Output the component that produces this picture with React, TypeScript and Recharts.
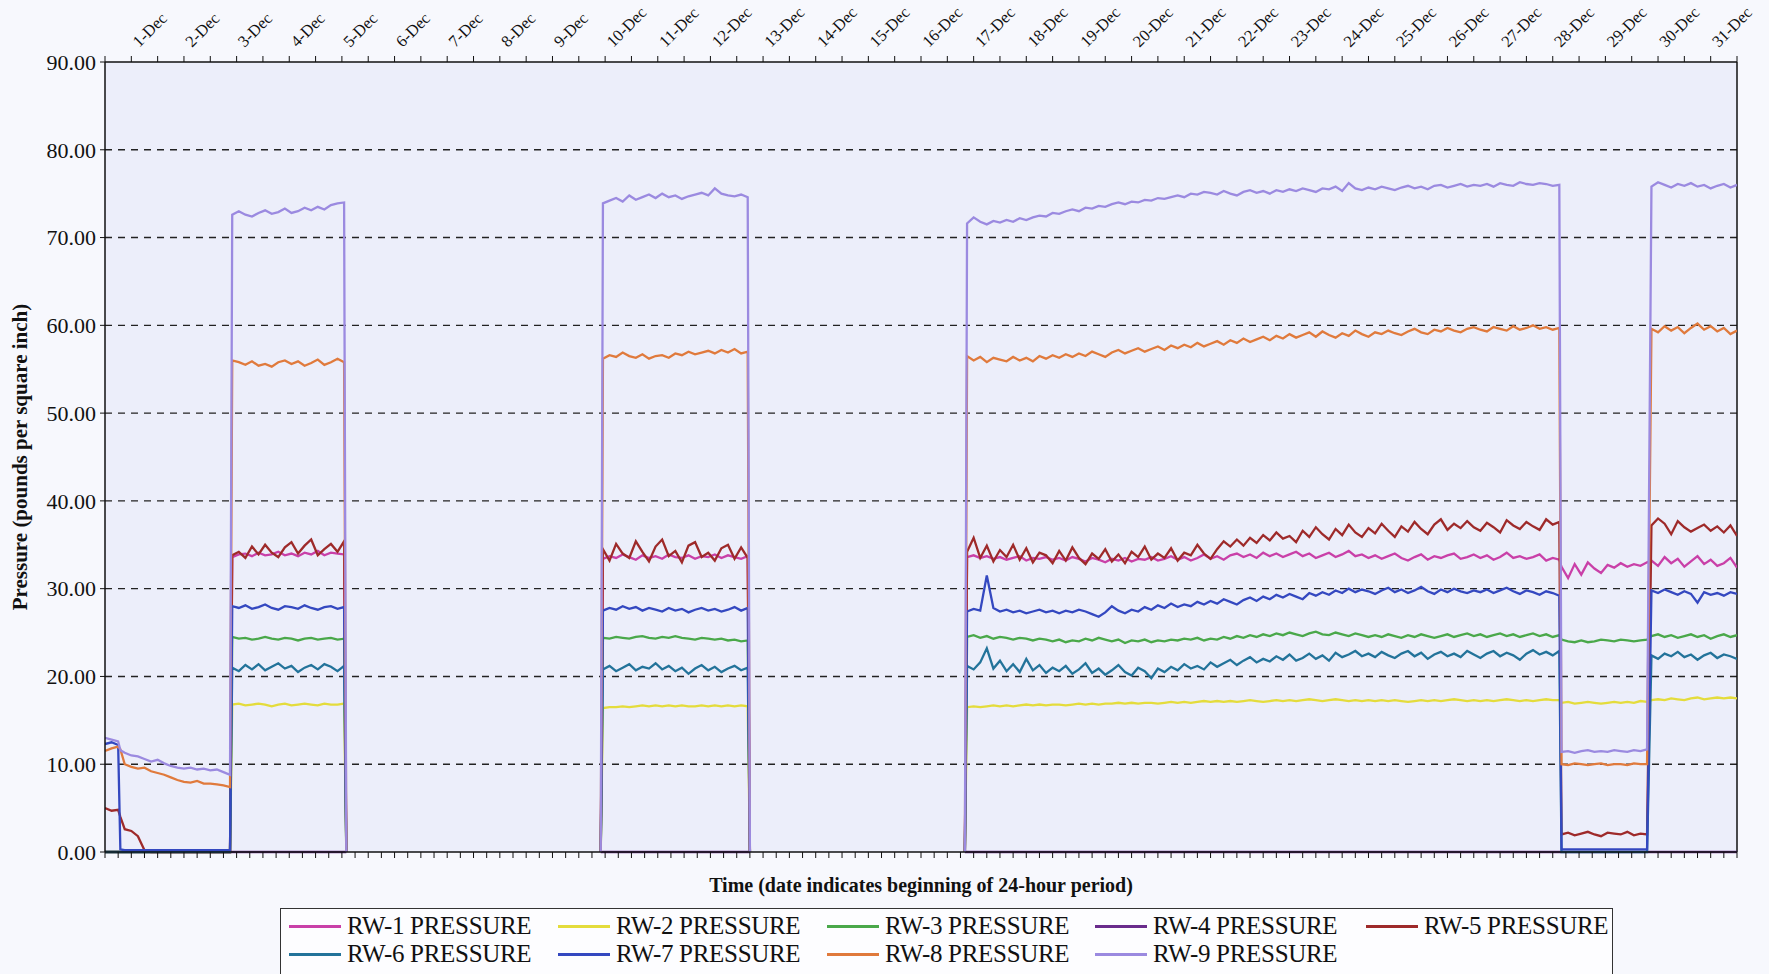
import React from 'react';
import { LineChart, Line, XAxis, YAxis, CartesianGrid, Legend, ReferenceLine } from 'recharts';

const FONT = '"Liberation Serif", "Times New Roman", Times, serif';

const dayLabels = ['1-Dec','2-Dec','3-Dec','4-Dec','5-Dec','6-Dec','7-Dec','8-Dec','9-Dec','10-Dec','11-Dec','12-Dec','13-Dec','14-Dec','15-Dec','16-Dec','17-Dec','18-Dec','19-Dec','20-Dec','21-Dec','22-Dec','23-Dec','24-Dec','25-Dec','26-Dec','27-Dec','28-Dec','29-Dec','30-Dec','31-Dec'];
const yTicks = [0, 10, 20, 30, 40, 50, 60, 70, 80, 90];
const gridValues = [10, 20, 30, 40, 50, 60, 70, 80];

// hours since 1-Dec 00:00
const times = [
  0,3,6,7,9,12,15,18,21,24,27,30,33,36,39,42,45,48,51,54,57,
  58,61,64,67,70,73,76,79,82,85,88,91,94,97,100,103,106,109,
  110,168,226,
  227,230,233,236,239,242,245,248,251,254,257,260,263,266,269,272,275,278,281,284,287,290,293,
  294,343,392,
  393,396,399,402,405,408,411,414,417,420,423,426,429,432,
  435,438,441,444,447,450,453,456,459,462,465,468,471,474,477,480,
  483,486,489,492,495,498,501,504,507,510,513,516,519,522,525,528,
  531,534,537,540,543,546,549,552,555,558,561,564,567,570,573,576,
  579,582,585,588,591,594,597,600,603,606,609,612,615,618,621,624,
  627,630,633,636,639,642,645,648,651,654,657,660,663,
  664,667,670,673,676,679,682,685,688,691,694,697,700,703,
  705,708,711,714,717,720,723,726,729,732,735,738,741,744,
];

const rw1 = [
  0,0,0,0,0,0,0,0,0,0,0,0,0,0,0,0,0,0,0,0,0,
  33.6,33.9,34.0,33.7,34.1,33.8,33.9,34.2,33.8,34.0,33.7,34.1,33.9,34.3,33.8,34.1,34.0,33.9,
  0,null,0,
  33.4,33.7,33.5,33.9,33.6,33.3,33.8,33.5,33.7,33.4,33.9,33.6,33.5,33.8,33.4,33.7,33.6,33.9,33.5,33.8,33.6,33.4,33.7,
  0,null,0,
  33.6,33.8,33.5,33.7,33.4,33.6,33.3,33.5,33.7,33.2,33.5,33.4,33.6,33.3,
  33.5,33.2,33.6,33.4,33.1,33.5,33.3,33.0,33.4,33.2,33.5,33.1,33.4,33.3,33.6,33.2,
  33.4,33.7,33.3,33.6,33.2,33.5,33.9,33.4,33.7,33.3,33.8,34.0,33.6,33.9,33.5,34.1,
  33.7,34.0,33.6,33.9,34.2,33.7,34.0,33.5,33.8,34.1,33.6,33.9,34.3,33.7,33.9,33.5,
  33.8,33.4,33.7,34.0,33.5,33.2,33.6,33.9,33.3,33.7,33.5,33.8,34.0,33.4,33.6,33.9,
  33.5,33.8,33.3,33.6,34.1,33.5,33.7,33.4,33.6,33.9,33.2,33.5,33.3,
  32.5,31.2,32.8,31.6,33.0,32.3,31.8,32.7,32.4,32.9,32.5,32.8,32.6,33.0,
  33.2,32.6,33.6,32.9,33.4,32.5,33.1,33.7,32.8,33.3,32.6,32.9,33.5,32.4,
];

const rw2 = [
  0,0,0,0,0,0,0,0,0,0,0,0,0,0,0,0,0,0,0,0,0,
  16.8,16.9,16.7,16.8,16.9,16.8,16.6,16.8,16.9,16.7,16.8,16.9,16.8,16.7,16.9,16.8,16.8,16.9,
  0,null,0,
  16.4,16.5,16.5,16.6,16.5,16.6,16.7,16.6,16.7,16.6,16.7,16.6,16.7,16.6,16.6,16.7,16.6,16.7,16.6,16.7,16.6,16.7,16.6,
  0,null,0,
  16.5,16.6,16.5,16.6,16.7,16.6,16.7,16.6,16.7,16.8,16.7,16.8,16.7,16.8,
  16.8,16.7,16.8,16.9,16.8,16.9,16.8,16.9,16.9,17.0,16.9,17.0,16.9,17.0,17.0,16.9,
  17.0,17.1,17.0,17.1,17.0,17.1,17.2,17.1,17.2,17.1,17.2,17.1,17.2,17.3,17.2,17.1,
  17.2,17.3,17.2,17.3,17.2,17.3,17.4,17.3,17.2,17.3,17.4,17.3,17.2,17.3,17.2,17.3,
  17.2,17.3,17.2,17.3,17.2,17.1,17.2,17.3,17.2,17.3,17.2,17.3,17.4,17.3,17.2,17.3,
  17.2,17.3,17.2,17.3,17.4,17.3,17.2,17.3,17.2,17.3,17.4,17.3,17.3,
  17.0,17.1,16.9,17.0,17.1,17.0,16.9,17.0,17.1,17.0,17.1,17.0,17.2,17.1,
  17.3,17.4,17.3,17.5,17.4,17.3,17.5,17.6,17.4,17.5,17.6,17.5,17.6,17.5,
];

const rw3 = [
  0,0,0,0,0,0,0,0,0,0,0,0,0,0,0,0,0,0,0,0,0,
  24.5,24.3,24.4,24.2,24.3,24.5,24.3,24.2,24.4,24.3,24.1,24.3,24.4,24.2,24.3,24.4,24.2,24.3,
  0,null,0,
  24.4,24.3,24.5,24.4,24.3,24.5,24.6,24.4,24.3,24.5,24.4,24.6,24.4,24.3,24.2,24.4,24.3,24.2,24.3,24.1,24.2,24.0,24.1,
  0,null,0,
  24.5,24.7,24.4,24.6,24.3,24.5,24.4,24.2,24.4,24.3,24.1,24.3,24.2,24.0,
  24.2,23.9,24.1,24.0,24.3,24.1,24.4,24.2,24.0,24.2,23.8,24.1,24.0,24.2,23.9,24.1,
  24.0,24.2,24.1,24.3,24.2,24.4,24.1,24.3,24.2,24.5,24.3,24.6,24.4,24.7,24.5,24.8,
  24.6,24.9,24.7,25.0,24.8,24.6,24.9,25.1,24.8,24.7,25.0,24.8,24.6,24.9,24.7,24.5,
  24.7,24.5,24.8,24.6,24.4,24.7,24.5,24.8,24.6,24.4,24.6,24.8,24.5,24.7,24.9,24.6,
  24.8,24.5,24.7,24.9,24.6,24.8,24.5,24.7,24.9,24.6,24.8,24.5,24.7,
  24.2,24.0,23.9,24.1,23.9,24.0,24.2,24.1,24.0,24.2,24.1,24.0,24.1,24.2,
  24.6,24.8,24.5,24.7,24.4,24.6,24.8,24.5,24.7,24.3,24.6,24.8,24.5,24.7,
];

const rw4 = [
  0,0,0,0,0,0,0,0,0,0,0,0,0,0,0,0,0,0,0,0,0,
  0,0,0,0,0,0,0,0,0,0,0,0,0,0,0,0,0,0,
  0,null,0,
  0,0,0,0,0,0,0,0,0,0,0,0,0,0,0,0,0,0,0,0,0,0,0,
  0,null,0,
  0,0,0,0,0,0,0,0,0,0,0,0,0,0,
  0,0,0,0,0,0,0,0,0,0,0,0,0,0,0,0,
  0,0,0,0,0,0,0,0,0,0,0,0,0,0,0,0,
  0,0,0,0,0,0,0,0,0,0,0,0,0,0,0,0,
  0,0,0,0,0,0,0,0,0,0,0,0,0,0,0,0,
  0,0,0,0,0,0,0,0,0,0,0,0,0,
  0,0,0,0,0,0,0,0,0,0,0,0,0,0,
  0,0,0,0,0,0,0,0,0,0,0,0,0,0,
];

const rw5 = [
  5.0,4.7,4.8,4.0,2.6,2.4,1.8,0.2,0,0,0,0,0,0,0,0,0,0,0,0,0,
  33.8,34.2,33.5,34.8,33.9,35.0,34.1,33.6,34.7,35.3,34.0,34.9,35.6,33.8,34.5,35.1,34.2,35.4,
  0,null,0,
  34.5,33.2,35.1,34.0,33.5,35.4,34.2,33.1,34.8,35.6,33.7,34.3,33.0,34.9,35.3,33.6,34.1,33.2,34.6,35.0,33.4,34.7,33.5,
  0,null,0,
  34.2,35.8,33.5,34.9,33.1,34.4,33.6,35.0,33.3,34.6,33.0,34.1,33.8,32.9,
  34.3,33.2,34.7,33.5,32.8,34.0,33.4,34.5,33.1,33.9,32.9,34.2,33.6,34.8,33.3,34.0,
  33.5,34.6,33.2,34.1,33.8,35.0,34.0,33.4,34.5,35.4,34.8,35.6,34.9,35.8,35.2,36.1,
  35.5,36.4,35.7,36.0,35.3,36.6,35.9,37.0,36.2,35.6,36.8,36.1,37.3,36.4,35.9,36.9,
  36.3,37.4,36.6,35.9,37.1,36.5,37.6,36.8,36.2,37.3,37.9,36.7,37.4,36.9,37.7,37.0,
  36.6,37.5,37.0,36.4,37.8,37.2,36.8,37.6,37.1,36.7,37.9,37.3,37.6,
  2.0,2.2,1.9,2.1,2.3,2.0,1.8,2.2,2.1,2.0,2.3,1.9,2.1,2.0,
  37.2,38.0,37.4,36.2,37.7,37.0,36.5,36.9,37.3,36.6,37.1,36.4,37.2,36.0,
];

const rw6 = [
  0,0,0,0,0,0,0,0,0,0,0,0,0,0,0,0,0,0,0,0,0,
  21.0,20.6,21.3,20.8,21.4,20.7,21.1,21.5,20.9,21.2,20.5,21.0,21.3,20.8,21.4,21.1,20.6,21.2,
  0,null,0,
  20.8,21.2,20.6,21.0,21.4,20.7,21.1,20.9,21.5,20.8,21.2,20.6,21.0,20.3,20.9,21.3,20.7,21.1,20.5,20.9,21.2,20.7,21.0,
  0,null,0,
  21.2,20.8,21.6,23.2,20.9,21.8,20.6,21.4,20.5,22.0,20.7,21.3,20.4,21.0,
  20.6,21.2,20.3,20.8,21.5,20.4,20.9,20.2,20.7,21.3,20.5,20.1,21.0,20.6,19.8,20.9,
  20.5,21.1,20.7,21.4,20.9,21.2,20.8,21.6,21.1,21.5,21.9,21.3,21.8,22.2,21.6,22.0,
  21.7,22.3,21.9,22.5,21.8,22.1,22.6,22.0,22.4,21.8,22.7,22.2,22.5,22.9,22.3,22.6,
  22.2,22.8,22.4,22.1,22.6,22.9,22.3,22.7,22.0,22.5,22.8,22.3,22.6,22.2,22.9,22.5,
  22.1,22.6,22.9,22.3,22.7,22.4,21.9,22.6,23.0,22.5,22.8,22.4,22.9,
  0,0,0,0,0,0,0,0,0,0,0,0,0,0,
  22.4,22.0,22.6,22.3,22.8,22.2,22.5,21.9,22.4,22.7,22.1,22.5,22.3,22.0,
];

const rw7 = [
  12.3,12.5,12.2,0.3,0.2,0.2,0.2,0.2,0.2,0.2,0.2,0.2,0.2,0.2,0.2,0.2,0.2,0.2,0.2,0.2,0.2,
  28.0,27.8,28.1,27.7,27.9,28.2,27.8,27.6,28.0,27.9,27.7,28.1,27.8,27.6,27.9,28.0,27.7,27.9,
  0,null,0,
  27.5,27.8,27.6,28.0,27.7,27.9,27.5,27.8,27.6,27.4,27.8,27.5,27.7,27.3,27.6,27.8,27.5,27.7,27.4,27.6,27.9,27.5,27.8,
  0,null,0,
  27.4,27.7,27.5,31.5,27.8,27.4,27.6,27.3,27.5,27.2,27.4,27.6,27.3,27.5,
  27.2,27.5,27.3,27.6,27.4,27.1,26.8,27.3,28.0,27.5,27.2,27.6,27.4,27.9,27.6,28.1,
  27.8,28.3,27.9,28.2,28.0,28.5,28.2,28.6,28.3,28.8,28.5,28.2,28.7,29.0,28.6,29.1,
  28.8,29.3,29.0,29.4,29.1,28.8,29.5,29.2,29.6,29.3,29.8,29.5,30.0,29.6,29.9,29.7,
  29.4,29.8,30.1,29.6,29.9,29.5,29.8,30.2,29.7,29.4,29.9,29.6,30.0,29.7,29.5,29.8,
  29.6,29.9,29.5,29.8,30.1,29.7,29.4,29.8,29.6,29.3,29.7,29.5,29.2,
  0.3,0.3,0.3,0.3,0.3,0.3,0.3,0.3,0.3,0.3,0.3,0.3,0.3,0.3,
  29.8,29.5,29.9,29.6,29.3,29.7,29.4,28.4,29.6,29.3,29.5,29.2,29.6,29.4,
];

const rw8 = [
  11.5,11.8,12.0,11.7,10.0,9.7,9.5,9.6,9.2,9.0,8.8,8.5,8.2,8.0,7.9,8.1,7.8,7.8,7.7,7.6,7.4,
  56.0,55.8,55.5,55.9,55.4,55.6,55.3,55.8,56.0,55.6,55.9,55.4,55.7,56.1,55.5,55.8,56.2,55.8,
  0,null,0,
  56.2,56.6,56.4,56.9,56.5,56.3,56.7,56.2,56.5,56.6,56.3,56.8,56.6,57.0,56.7,56.9,57.1,56.8,57.2,56.9,57.3,56.8,57.0,
  0,null,0,
  56.5,56.0,56.4,55.8,56.3,56.1,55.9,56.4,56.0,56.3,55.9,56.5,56.2,56.6,
  56.3,56.7,56.4,56.8,56.5,57.0,56.7,56.4,56.9,57.2,56.8,57.1,57.4,57.0,57.3,57.6,
  57.2,57.7,57.4,57.8,57.5,58.0,57.6,57.9,58.2,57.8,58.3,58.0,58.5,58.1,58.4,58.7,
  58.3,58.8,58.5,59.0,58.6,58.9,59.2,58.7,59.3,58.9,58.6,59.1,58.8,59.4,59.0,58.7,
  59.2,59.0,59.4,59.1,58.9,59.3,59.6,59.2,59.0,59.5,59.3,59.7,59.4,59.2,59.6,59.8,
  59.5,59.3,59.8,59.6,59.4,59.9,59.5,59.7,60.0,59.6,59.8,59.5,59.7,
  10.0,9.9,10.1,10.0,9.9,10.0,10.1,9.9,10.0,10.0,9.9,10.1,10.0,10.0,
  59.6,59.2,59.9,59.4,59.8,59.1,59.7,60.2,59.5,59.9,59.3,59.7,59.0,59.4,
];

const rw9 = [
  13.0,12.8,12.6,11.6,11.3,11.0,10.9,10.6,10.3,10.5,10.1,9.8,9.6,9.5,9.6,9.4,9.5,9.3,9.4,9.1,8.8,
  72.6,73.0,72.6,72.4,72.8,73.1,72.7,72.9,73.3,72.8,73.0,73.4,73.1,73.5,73.2,73.7,73.9,74.0,
  0,null,0,
  73.9,74.2,74.5,74.1,74.8,74.3,74.6,74.9,74.5,75.0,74.6,74.8,74.4,74.7,74.9,75.1,74.8,75.6,75.0,74.8,74.7,74.9,74.6,
  0,null,0,
  71.6,72.3,71.8,71.5,71.9,71.7,72.0,71.8,72.2,72.0,72.3,72.5,72.4,72.8,
  72.7,73.0,73.2,73.0,73.4,73.3,73.6,73.5,73.8,74.0,73.8,74.1,74.0,74.3,74.2,74.5,
  74.4,74.6,74.8,74.6,75.0,74.9,75.2,75.1,74.9,75.3,75.0,74.8,75.2,75.4,75.1,75.3,
  75.0,75.4,75.2,75.5,75.3,75.6,75.4,75.2,75.6,75.5,75.8,75.3,76.2,75.6,75.4,75.7,
  75.5,75.8,75.6,75.4,75.7,75.9,75.6,75.8,75.5,75.9,76.0,75.7,75.9,76.1,75.8,76.0,
  75.9,76.1,75.8,76.2,76.0,75.9,76.3,76.1,76.0,76.2,76.1,75.9,76.0,
  11.4,11.5,11.3,11.5,11.6,11.4,11.5,11.4,11.6,11.5,11.4,11.6,11.5,11.7,
  75.8,76.3,76.0,75.7,76.1,75.9,76.2,75.8,76.0,75.6,75.9,76.1,75.7,76.0,
];

const seriesNames = ['RW-1 PRESSURE','RW-2 PRESSURE','RW-3 PRESSURE','RW-4 PRESSURE','RW-5 PRESSURE','RW-6 PRESSURE','RW-7 PRESSURE','RW-8 PRESSURE','RW-9 PRESSURE'];
const seriesColors = ['#c940a8','#e4dc3c','#4aa84a','#6a2c8c','#9e2a2a','#23739a','#3448c0','#e07a3c','#9b8ae0'];
const seriesValues = [rw1, rw2, rw3, rw4, rw5, rw6, rw7, rw8, rw9];

const data = times.map((t, i) => {
  const row: Record<string, number | null> = { t };
  seriesValues.forEach((arr, k) => { row['s' + k] = arr[i] === undefined ? null : arr[i]; });
  return row;
});

const bottomTicks = Array.from({ length: 125 }, (_, i) => i * 6);
const topTicks = Array.from({ length: 63 }, (_, i) => i * 12);

const TopTick = (props: any) => {
  const { x, payload } = props;
  const v = payload.value;
  if (v % 24 !== 12) return null;
  const label = dayLabels[(v - 12) / 24];
  const tx = x + 8;
  const ty = 48;
  return (
    <text x={tx} y={ty} transform={`rotate(-45 ${tx} ${ty})`} fontSize={16.5} fontFamily={FONT} fill="#111" textAnchor="start">
      {label}
    </text>
  );
};

const LegendBox = () => {
  const cols = [0, 269, 538, 806, 1077];
  return (
    <div style={{ position: 'relative', width: 1333, height: 70, border: '1.5px solid #333', background: '#fdfdff', fontFamily: FONT, boxSizing: 'border-box' }}>
      {seriesNames.map((name, i) => {
        const row = i < 5 ? 0 : 1;
        const col = i < 5 ? i : i - 5;
        return (
          <div key={name} style={{ position: 'absolute', left: 8 + cols[col], top: 3 + row * 28, height: 28, display: 'flex', alignItems: 'center', whiteSpace: 'nowrap' }}>
            <div style={{ width: 52, height: 3, background: seriesColors[i], marginRight: 6 }} />
            <span style={{ fontSize: 25, color: '#111', lineHeight: '28px', letterSpacing: -0.3 }}>{name}</span>
          </div>
        );
      })}
    </div>
  );
};

export default function App() {
  return (
    <div style={{ position: 'absolute', left: 0, top: 0, width: 1769, height: 974, background: '#f7f8fd', overflow: 'hidden' }}>
      <LineChart width={1769} height={974} data={data} margin={{ top: 12, right: 32, bottom: 102, left: 30 }}>
        <CartesianGrid xAxisId="bottom" yAxisId="left" horizontal={false} vertical={false} fill="#eceefa" />
        {gridValues.map((g) => (
          <ReferenceLine key={g} xAxisId="bottom" yAxisId="left" y={g} stroke="#222" strokeWidth={1.4} strokeDasharray="7 6" />
        ))}
        <XAxis
          xAxisId="bottom"
          dataKey="t"
          type="number"
          domain={[0, 744]}
          ticks={bottomTicks}
          interval={0}
          allowDataOverflow
          height={20}
          tickSize={6}
          tickFormatter={() => ''}
          stroke="#111"
          axisLine={{ stroke: '#111', strokeWidth: 1.5 }}
          tickLine={{ stroke: '#111' }}
          label={{ value: 'Time (date indicates beginning of 24-hour period)', position: 'bottom', offset: 6, style: { fontSize: 20, fontWeight: 'bold', fontFamily: FONT, fill: '#111' } }}
        />
        <XAxis
          xAxisId="top"
          orientation="top"
          dataKey="t"
          type="number"
          domain={[0, 744]}
          ticks={topTicks}
          interval={0}
          allowDataOverflow
          height={50}
          tickSize={6}
          tick={<TopTick />}
          axisLine={{ stroke: '#111', strokeWidth: 1.5 }}
          tickLine={{ stroke: '#111' }}
        />
        <YAxis
          yAxisId="left"
          type="number"
          domain={[0, 90]}
          ticks={yTicks}
          interval={0}
          width={75}
          tickSize={5}
          tickMargin={4}
          tickFormatter={(v: number) => v.toFixed(2)}
          tick={{ fontSize: 22, fill: '#111', fontFamily: FONT }}
          axisLine={{ stroke: '#111', strokeWidth: 1.5 }}
          tickLine={{ stroke: '#111' }}
          label={{ value: 'Pressure (pounds per square inch)', angle: -90, position: 'insideLeft', offset: -10, style: { textAnchor: 'middle', fontSize: 21, fontWeight: 'bold', fontFamily: FONT, fill: '#111' } }}
        />
        <ReferenceLine xAxisId="bottom" yAxisId="left" x={744} stroke="#111" strokeWidth={1.5} />
        {seriesNames.map((name, k) => (
          <Line
            key={name}
            xAxisId="bottom"
            yAxisId="left"
            type="linear"
            dataKey={'s' + k}
            name={name}
            stroke={seriesColors[k]}
            strokeWidth={2.3}
            dot={false}
            connectNulls={false}
            isAnimationActive={false}
          />
        ))}
        <Legend
          layout="horizontal"
          verticalAlign="middle"
          align="center"
          content={() => <LegendBox />}
          wrapperStyle={{ left: 280, top: 908, width: 1333, height: 70 }}
        />
      </LineChart>
    </div>
  );
}
